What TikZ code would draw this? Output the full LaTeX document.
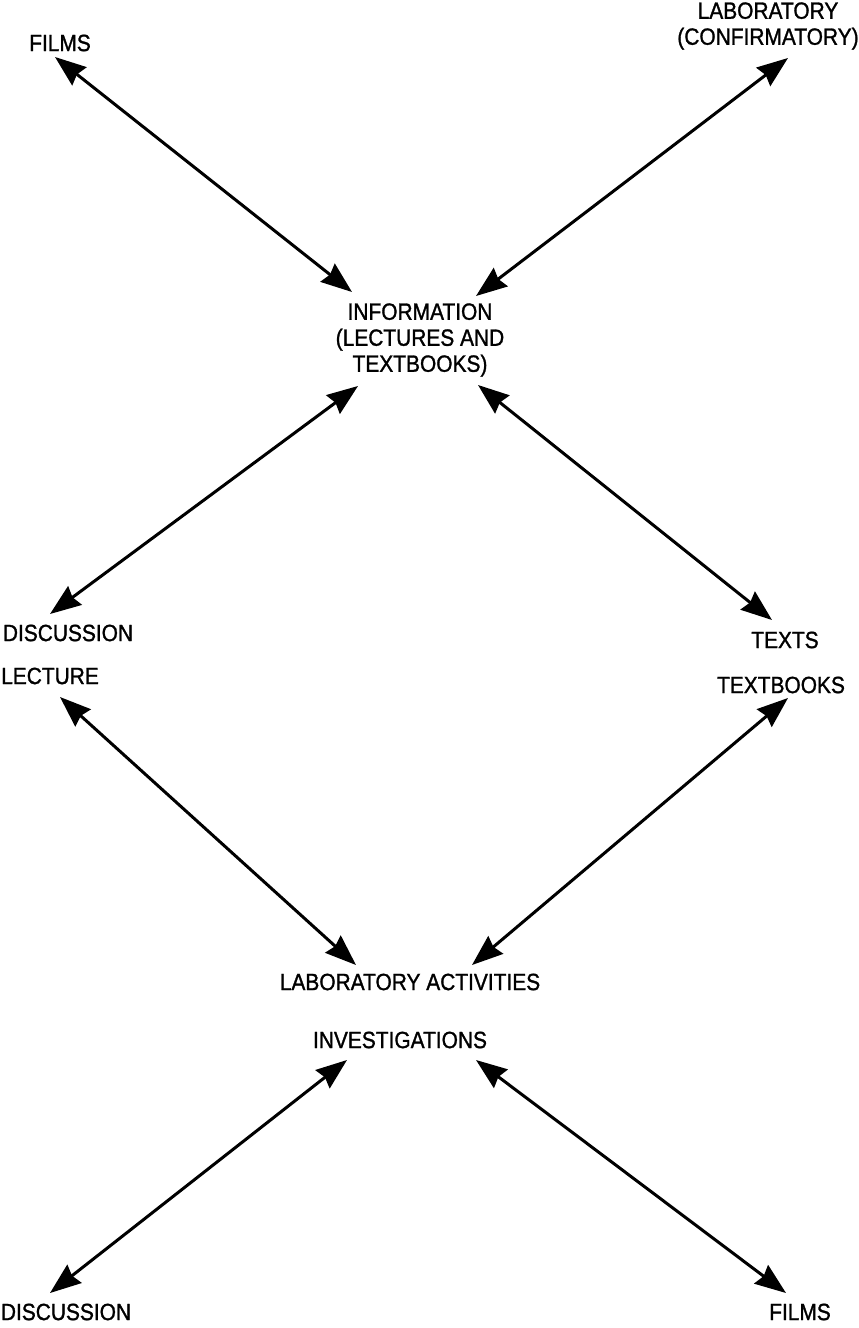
\documentclass[tikz,border=0pt]{standalone}
\usepackage{fontspec}
\newfontfamily\labfont[FakeStretch=0.89,FakeBold=1.2]{Liberation Sans}
\usetikzlibrary{arrows.meta}
\begin{document}
\begin{tikzpicture}[x=1pt,y=-1pt,
  lbl/.style={font=\labfont\fontsize{23.5}{26}\selectfont, inner sep=0pt, align=center},
  arr/.style={line width=3pt, >={Stealth[length=31pt,width=23pt,inset=3pt]}, <->}]
\path[use as bounding box, fill=white] (0,0) rectangle (859,1328);
% upper figure
\node[lbl] (films1) at (60,43) {FILMS};
\node[lbl] (labconf) at (768,26) {LABORATORY\\(CONFIRMATORY)};
\node[lbl] (info) at (420,340) {INFORMATION\\(LECTURES AND\\TEXTBOOKS)};
\node[lbl] (disc1) at (68,633) {DISCUSSION};
\node[lbl] (texts) at (785,640) {TEXTS};
% lower figure
\node[lbl] (lecture) at (50,676) {LECTURE};
\node[lbl] (textbooks) at (781,685) {TEXTBOOKS};
\node[lbl] (labact) at (410,982) {LABORATORY ACTIVITIES};
\node[lbl] (invest) at (400,1040) {INVESTIGATIONS};
\node[lbl] (disc2) at (66,1312) {DISCUSSION};
\node[lbl] (films2) at (800,1312) {FILMS};
% connectors
\draw[arr] ([xshift=-5pt,yshift=-14pt]films1.center) -- ([xshift=-68pt,yshift=48pt]info.center);
\draw[arr] ([xshift=20pt,yshift=-32pt]labconf.center) -- ([xshift=56pt,yshift=44pt]info.center);
\draw[arr] ([xshift=-18pt,yshift=19pt]disc1.center) -- ([xshift=-62pt,yshift=-46pt]info.center);
\draw[arr] ([xshift=-13pt,yshift=20pt]texts.center) -- ([xshift=58pt,yshift=-45pt]info.center);
\draw[arr] ([xshift=10pt,yshift=-21pt]lecture.center) -- ([xshift=-54pt,yshift=17pt]labact.center);
\draw[arr] ([xshift=7pt,yshift=-13pt]textbooks.center) -- ([xshift=62pt,yshift=17pt]labact.center);
\draw[arr] ([xshift=-16pt,yshift=19pt]disc2.center) -- ([xshift=-53pt,yshift=-20pt]invest.center);
\draw[arr] ([xshift=-14pt,yshift=19pt]films2.center) -- ([xshift=76pt,yshift=-20pt]invest.center);
\end{tikzpicture}
\end{document}
